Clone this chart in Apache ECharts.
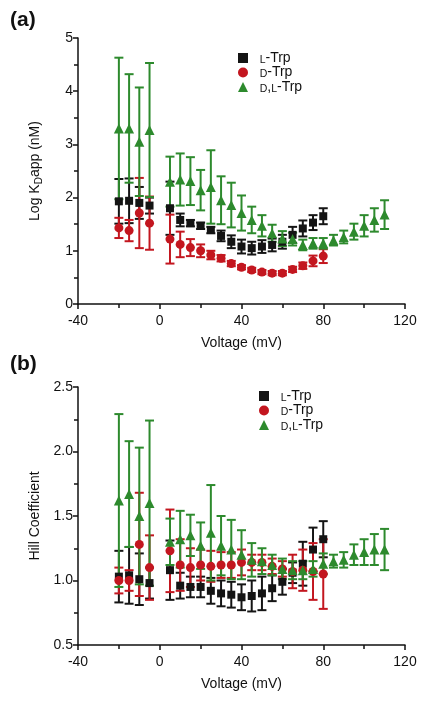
<!DOCTYPE html>
<html><head><meta charset="utf-8">
<script src="https://cdn.jsdelivr.net/npm/echarts@6/dist/echarts.min.js"></script>
<style>html,body{margin:0;padding:0;background:#fff}#c{width:431px;height:703px}</style>
</head><body><div id="c"></div>
<script>
// ---- data ----
const xL = [-20,-15,-10,-5,5,10,15,20,25,30,35,40,45,50,55,60,65,70,75,80];
const xDL = [-20,-15,-10,-5,5,10,15,20,25,30,35,40,45,50,55,60,65,70,75,80,85,90,95,100,105,110];
const seriesNames = ['L-Trp','D-Trp','D,L-Trp'];
const xTicks = [-40,0,40,80,120];

// panel (a): Log KDapp
const aL    = [1.93,1.94,1.90,1.85,1.80,1.58,1.52,1.47,1.39,1.28,1.17,1.08,1.05,1.08,1.11,1.17,1.30,1.42,1.53,1.65];
const aLerr = [0.42,0.42,0.30,0.15,0.50,0.12,0.06,0.06,0.06,0.10,0.12,0.13,0.12,0.12,0.12,0.13,0.15,0.15,0.14,0.15];
const aR    = [1.43,1.38,1.71,1.52,1.22,1.12,1.06,1.00,0.92,0.86,0.76,0.69,0.64,0.60,0.58,0.58,0.65,0.72,0.81,0.90];
const aRerr = [0.19,0.20,0.66,0.50,0.46,0.24,0.16,0.12,0.08,0.06,0.05,0.04,0.04,0.04,0.04,0.04,0.05,0.06,0.10,0.13];
const aDL   = [3.30,3.30,3.05,3.27,2.30,2.34,2.31,2.14,2.20,1.95,1.86,1.71,1.58,1.47,1.33,1.23,1.22,1.11,1.14,1.14,1.20,1.26,1.36,1.47,1.58,1.68];
const aDLerr= [1.33,1.02,1.02,1.26,0.47,0.49,0.45,0.38,0.69,0.45,0.42,0.33,0.25,0.20,0.16,0.14,0.12,0.10,0.10,0.10,0.10,0.12,0.15,0.20,0.22,0.27];

// panel (b): Hill coefficient
const bL    = [1.03,1.04,1.01,0.98,1.08,0.96,0.95,0.95,0.92,0.90,0.89,0.87,0.88,0.90,0.94,0.99,1.06,1.13,1.24,1.32];
const bLerr = [0.20,0.22,0.20,0.12,0.23,0.10,0.08,0.08,0.10,0.10,0.10,0.10,0.12,0.13,0.10,0.10,0.08,0.17,0.17,0.14];
const bR    = [1.00,1.00,1.28,1.10,1.23,1.12,1.10,1.12,1.11,1.12,1.12,1.14,1.14,1.14,1.11,1.09,1.07,1.08,1.07,1.05];
const bRerr = [0.10,0.08,0.40,0.25,0.32,0.20,0.15,0.12,0.12,0.10,0.10,0.10,0.06,0.06,0.06,0.06,0.13,0.16,0.22,0.27];
const bDL   = [1.62,1.67,1.50,1.60,1.30,1.32,1.35,1.27,1.37,1.27,1.24,1.20,1.16,1.15,1.12,1.09,1.08,1.08,1.09,1.13,1.15,1.16,1.20,1.22,1.24,1.24];
const bDLerr= [0.67,0.41,0.53,0.64,0.18,0.22,0.16,0.18,0.37,0.23,0.23,0.19,0.13,0.10,0.08,0.08,0.07,0.07,0.06,0.08,0.05,0.06,0.08,0.10,0.12,0.16];

// ---- styles ----
const BLACK = '#141414', RED = '#c3161f', GREEN = '#2d8a2d';
const FONT = 'Liberation Sans, Arial, sans-serif';

function pts(xs, ys){ return xs.map((x,i)=>[x, ys[i]]); }
function errPts(xs, ys, es){ return xs.map((x,i)=>[x, ys[i], es[i]]); }

function errSeries(xs, ys, es, color, idx){
  return {
    type:'custom', xAxisIndex:idx, yAxisIndex:idx, z:2,
    data: errPts(xs, ys, es),
    encode:{x:0, y:1},
    renderItem:function(params, api){
      const x = api.value(0), y = api.value(1), e = api.value(2);
      const t = api.coord([x, y+e]), b = api.coord([x, y-e]);
      const w = 4.5;
      const st = {stroke:color, lineWidth:2};
      return {type:'group', children:[
        {type:'line', shape:{x1:t[0],y1:t[1],x2:b[0],y2:b[1]}, style:st},
        {type:'line', shape:{x1:t[0]-w,y1:t[1],x2:t[0]+w,y2:t[1]}, style:st},
        {type:'line', shape:{x1:b[0]-w,y1:b[1],x2:b[0]+w,y2:b[1]}, style:st}
      ]};
    },
    silent:true
  };
}
function scat(name, xs, ys, color, symbol, size, idx){
  return {type:'scatter', name:name, xAxisIndex:idx, yAxisIndex:idx, z:3,
    symbol:symbol, symbolSize:size, data:pts(xs, ys),
    itemStyle:{color:color, opacity:1}};
}

const legendRich = {
  n:{fontSize:14, fontFamily:FONT, color:'#111', lineHeight:15},
  sc:{fontSize:10.5, fontFamily:FONT, color:'#111', lineHeight:13, verticalAlign:'bottom'}
};
function legFmt(name){
  if(name==='L-Trp') return '  {sc|L}{n|-Trp}';
  if(name==='D-Trp') return '  {sc|D}{n|-Trp}';
  return '  {sc|D}{n|,}{sc|L}{n|-Trp}';
}

function xAxisDef(idx){
  return {type:'value', gridIndex:idx, min:-40, max:120, interval:40,
    name:'Voltage (mV)', nameLocation:'middle', nameGap:32,
    nameTextStyle:{fontSize:14, fontFamily:FONT, color:'#111'},
    axisLine:{show:true, onZero:false, lineStyle:{color:'#111', width:1.5}},
    axisTick:{show:true, length:5, lineStyle:{color:'#111', width:1.5}},
    minorTick:{show:true, splitNumber:2, length:4, lineStyle:{color:'#111', width:1.5}},
    axisLabel:{fontSize:14, fontFamily:FONT, color:'#111', margin:10},
    splitLine:{show:false}};
}

const option = {
  animation:false,
  backgroundColor:'#fff',
  title:[
    {text:'(a)', left:5, top:5, textStyle:{fontSize:21, fontWeight:'bold', fontFamily:FONT, color:'#111'}},
    {text:'(b)', left:5, top:349, textStyle:{fontSize:21, fontWeight:'bold', fontFamily:FONT, color:'#111'}}
  ],
  legend:[
    {data:seriesNames, orient:'vertical', left:233, top:46, itemWidth:10, itemHeight:10, itemGap:0,
      formatter:legFmt, textStyle:{rich:legendRich}, selectedMode:false},
    {data:seriesNames, orient:'vertical', left:254, top:384, itemWidth:10, itemHeight:10, itemGap:0,
      formatter:legFmt, textStyle:{rich:legendRich}, selectedMode:false}
  ],
  grid:[
    {left:78, top:38, width:327, height:266},
    {left:78, top:387, width:327, height:258}
  ],
  xAxis:[xAxisDef(0), xAxisDef(1)],
  yAxis:[
    {type:'value', gridIndex:0, min:0, max:5, interval:1,
      name:'Log K{sub|D}app (nM)', nameLocation:'middle', nameGap:34,
      nameTextStyle:{fontSize:14, fontFamily:FONT, color:'#111', lineHeight:18,
        rich:{sub:{fontSize:10, fontFamily:FONT, color:'#111', verticalAlign:'bottom', lineHeight:18}}},
      axisLine:{show:true, onZero:false, lineStyle:{color:'#111', width:1.5}},
      axisTick:{show:true, length:5, lineStyle:{color:'#111', width:1.5}},
      minorTick:{show:true, splitNumber:2, length:4, lineStyle:{color:'#111', width:1.5}},
      axisLabel:{fontSize:14, fontFamily:FONT, color:'#111', margin:5},
      splitLine:{show:false}},
    {type:'value', gridIndex:1, min:0.5, max:2.5, interval:0.5,
      name:'Hill Coefficient', nameLocation:'middle', nameGap:35,
      nameTextStyle:{fontSize:14, fontFamily:FONT, color:'#111'},
      axisLine:{show:true, onZero:false, lineStyle:{color:'#111', width:1.5}},
      axisTick:{show:true, length:5, lineStyle:{color:'#111', width:1.5}},
      minorTick:{show:true, splitNumber:2, length:4, lineStyle:{color:'#111', width:1.5}},
      axisLabel:{fontSize:14, fontFamily:FONT, color:'#111', margin:5, formatter:v=>v.toFixed(1)},
      splitLine:{show:false}}
  ],
  series:[
    scat('L-Trp', xL, aL, BLACK, 'rect', 8, 0),
    scat('D-Trp', xL, aR, RED, 'circle', 9, 0),
    scat('D,L-Trp', xDL, aDL, GREEN, 'triangle', 10, 0),
    scat('L-Trp', xL, bL, BLACK, 'rect', 8, 1),
    scat('D-Trp', xL, bR, RED, 'circle', 9, 1),
    scat('D,L-Trp', xDL, bDL, GREEN, 'triangle', 10, 1),
    errSeries(xL, aL, aLerr, BLACK, 0),
    errSeries(xL, aR, aRerr, RED, 0),
    errSeries(xDL, aDL, aDLerr, GREEN, 0),
    errSeries(xL, bL, bLerr, BLACK, 1),
    errSeries(xL, bR, bRerr, RED, 1),
    errSeries(xDL, bDL, bDLerr, GREEN, 1)
  ]
};
const chart = echarts.init(document.getElementById('c'), null, {renderer:'canvas'});
chart.setOption(option);
</script></body></html>
